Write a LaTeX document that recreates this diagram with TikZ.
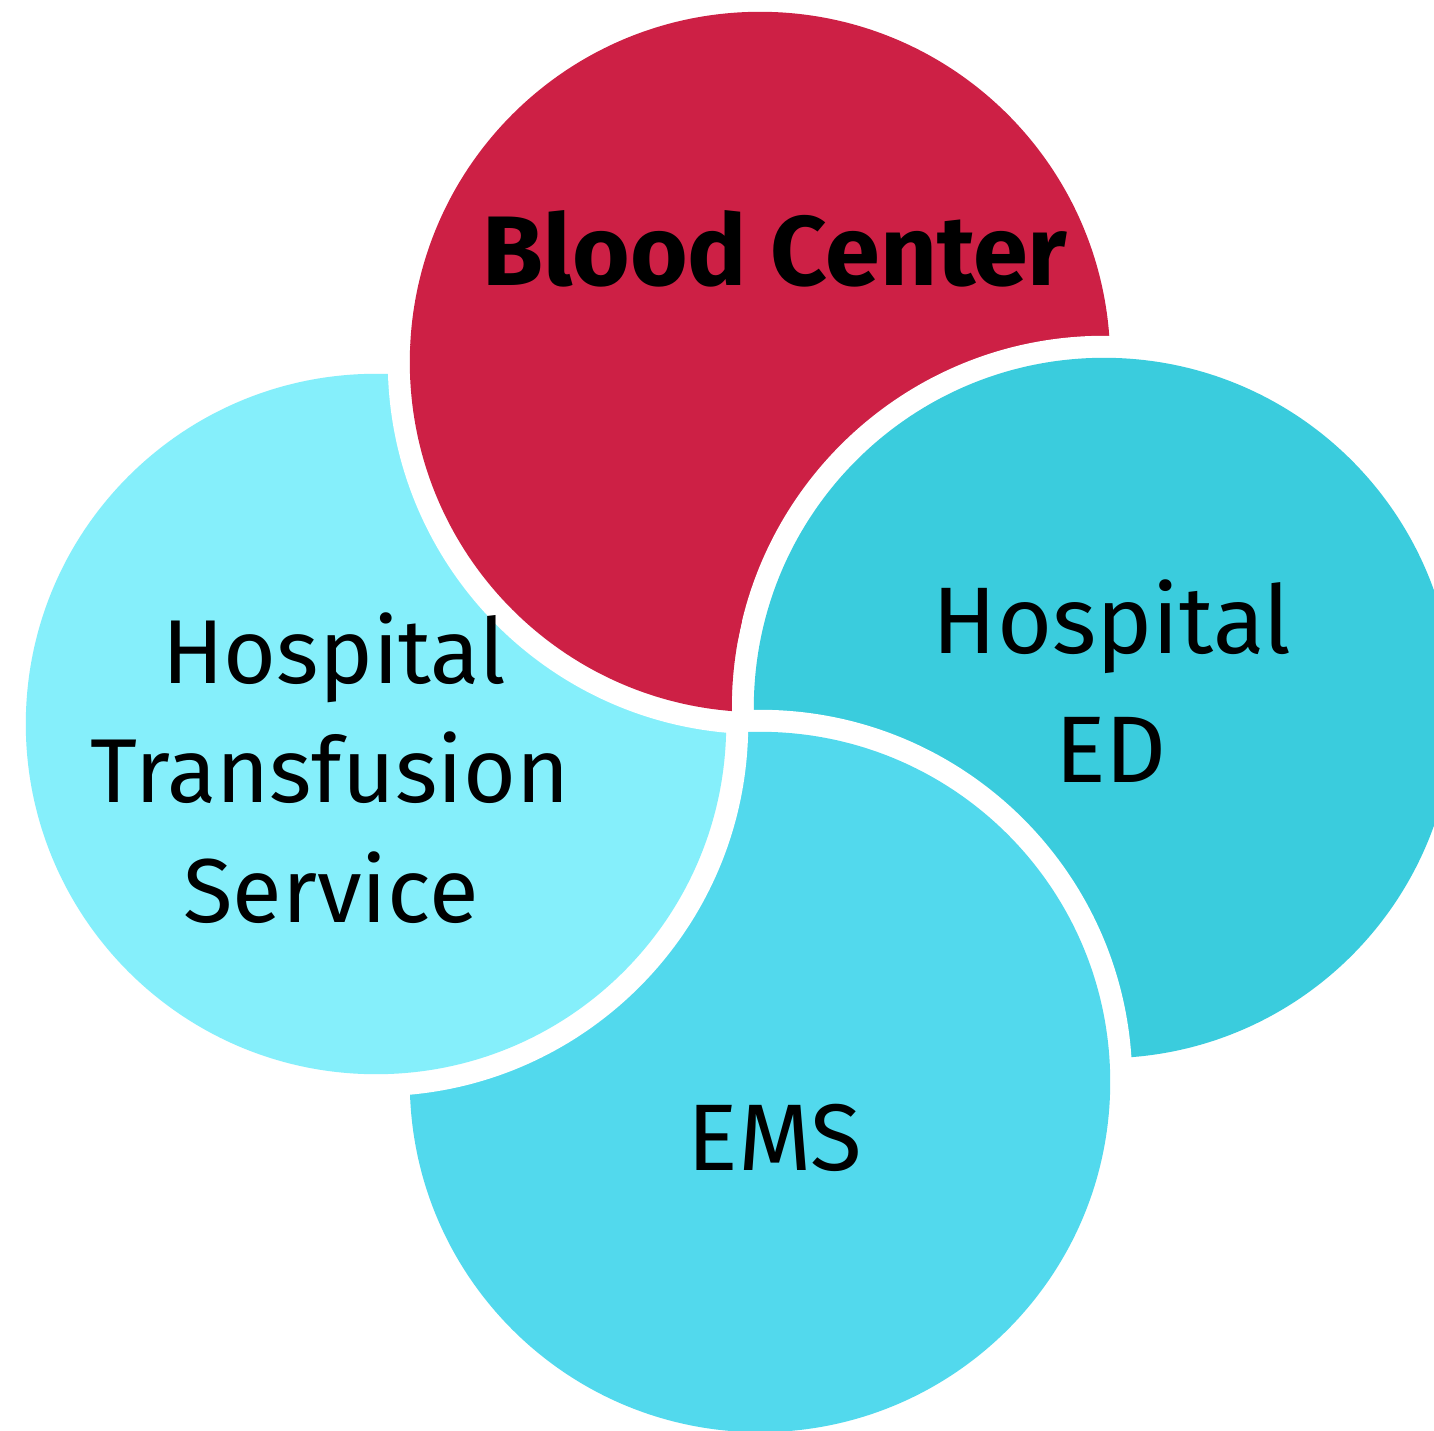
\documentclass[tikz,border=0pt]{standalone}
\usepackage{fontspec}
\setmainfont{Fira Sans}
\definecolor{bcred}{RGB}{205,32,69}
\definecolor{edcol}{RGB}{58,204,221}
\definecolor{emscol}{RGB}{82,217,237}
\definecolor{htscol}{RGB}{133,239,251}
\newcommand\mydisk[2]{%
  \fill[white] (#1) circle[radius=3.72cm];
  \fill[#2] (#1) circle[radius=3.5cm];}
\newcommand\myring[2]{%
  \fill[white, even odd rule] (#1) circle[radius=3.72cm] (#1) circle[radius=3.49cm];
  \fill[#2] (#1) circle[radius=3.5cm];}
\begin{document}
\begin{tikzpicture}[x=0.01cm,y=-0.01cm,
  lbl/.style={anchor=base, inner sep=0pt, text=black, font=\fontsize{26.9}{30}\selectfont},
  lblsmall/.style={lbl, font=\fontsize{25.8}{30}\selectfont},
  lblbold/.style={lbl, font=\fontsize{28.1}{32}\selectfont\bfseries}]
\useasboundingbox[fill=white] (0,0) rectangle (1434,1431);
\coordinate (bc) at (760,362);
\coordinate (ed) at (1104,708);
\coordinate (ems) at (760,1082);
\coordinate (hts) at (376,724);
% linear order: Blood Center, ED, EMS, HTS
\mydisk{bc}{bcred}
\mydisk{ed}{edcol}
\mydisk{ems}{emscol}
\mydisk{hts}{htscol}
% Blood Center lies over HTS: redraw it there, but not inside ED's white ring
\begin{scope}
  \clip (hts) circle[radius=3.8cm];
  \begin{scope}[even odd rule]
    \clip (-100,-100) rectangle (1600,1600) (ed) circle[radius=3.72cm];
    \myring{bc}{bcred}
  \end{scope}
\end{scope}
\node[lblbold] (tbc) at (775,286) {Blood Center};
\node[lbl] (ted1) at (1112,653) {Hospital};
\node[lbl] (ted2) at (1111,782) {ED};
\node[lbl] (tems) at (775,1170) {EMS};
\node[lblsmall] (thts1) at (334,683) {Hospital};
\node[lblsmall] (thts2) at (330,802) {Transfusion};
\node[lblsmall] (thts3) at (331,922) {Service};
\end{tikzpicture}
\end{document}
